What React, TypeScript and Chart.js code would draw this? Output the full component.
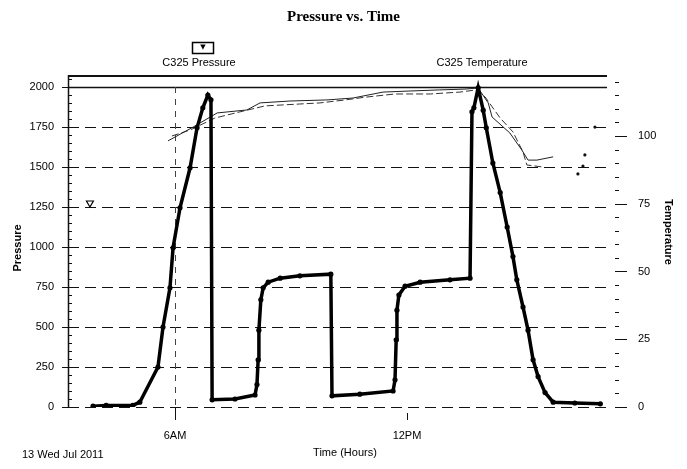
import React, { useEffect, useRef } from "react";
import { Chart, registerables } from "chart.js";

Chart.register(...registerables);

const TITLE = "Pressure vs. Time";
const PRESSURE_NAME = "C325 Pressure";
const TEMP_NAME = "C325 Temperature";
const X_TITLE = "Time (Hours)";
const DATE_LABEL = "13 Wed Jul 2011";
const Y_TITLE = "Pressure";
const Y2_TITLE = "Temperature";

const xTickHours = [6, 12];
const xTickLabels = ["6AM", "12PM"];
const pressureTicks = [0, 250, 500, 750, 1000, 1250, 1500, 1750, 2000];
const temperatureTicks = [0, 25, 50, 75, 100];

// C325 Pressure (hours since midnight, psi)
const pressureHours = [3.88, 4.22, 4.91, 5.09, 5.56, 5.69, 5.87, 5.95, 6.13, 6.39, 6.57, 6.72, 6.85, 6.93, 6.96, 7.55, 8.07, 8.12, 8.15, 8.17, 8.22, 8.28, 8.41, 8.72, 9.23, 10.03, 10.06, 10.78, 11.64, 11.69, 11.72, 11.74, 11.79, 11.95, 12.34, 13.11, 13.63, 13.68, 13.73, 13.84, 13.97, 14.05, 14.22, 14.41, 14.59, 14.74, 14.84, 15.0, 15.13, 15.26, 15.39, 15.57, 15.78, 16.34, 17.0];
const pressureValues = [5, 10, 10, 30, 250, 500, 745, 995, 1245, 1495, 1745, 1870, 1950, 1920, 45, 50, 75, 140, 295, 480, 670, 745, 780, 805, 820, 830, 70, 80, 100, 170, 420, 605, 700, 755, 780, 795, 805, 1845, 1870, 1995, 1855, 1745, 1525, 1340, 1125, 940, 795, 625, 480, 295, 190, 90, 30, 25, 20];

// C325 Temperature traces
const tempAHours = [5.82, 6.47, 7.09, 7.86, 8.2, 8.97, 9.93, 10.6, 11.38, 12.08, 12.85, 13.5, 13.84, 14.1, 14.2, 14.66, 14.97, 15.13, 15.36, 15.78];
const tempAValues = [98.2, 103.3, 108.5, 109.6, 112.2, 112.9, 113.3, 114, 116.2, 116.6, 117, 117.3, 117.7, 112.2, 107, 101.1, 94.8, 91.1, 91.1, 92.3];
const tempBHours = [5.92, 6.39, 7.03, 7.68, 8.33, 9.23, 9.75, 10.4, 10.91, 11.69, 12.6, 13.37, 13.79, 14.02, 14.41, 14.74, 14.87, 15.0, 15.1, 15.49];
const tempBValues = [100, 102.2, 106.6, 108.9, 111.1, 111.8, 112.2, 113.3, 114.3, 115.5, 115.5, 116.2, 117, 114.4, 106.6, 101.5, 97.8, 94.1, 89.3, 88.6];
const tempDotHours = [16.42, 16.55, 16.6, 16.86];
const tempDotValues = [86, 88.9, 93, 103.3];

// marker
const markerHours = [3.8];
const markerValues = [1275];

const X_MIN = 3.233;
const X_MAX = 17.172;
const P_MAX = 2075;
const T_MAX = 122.5;

const SANS = "'Liberation Sans', Arial, sans-serif";
const SERIF = "'Liberation Serif', 'Times New Roman', serif";

const zip = (xs: number[], ys: number[]) => xs.map((x, i) => ({ x, y: ys[i] }));

const decor = {
  id: "decor",
  beforeDatasetsDraw(chart: any) {
    const { ctx, chartArea: ca, scales } = chart;
    const y = scales.y;
    const yT = scales.yT;
    const x = scales.x;
    ctx.save();
    ctx.strokeStyle = "#111";
    // horizontal grid lines
    pressureTicks.forEach((v) => {
      const py = Math.round(y.getPixelForValue(v)) + 0.5;
      if (v === 2000) {
        ctx.setLineDash([]);
        ctx.lineWidth = 1.6;
      } else {
        ctx.setLineDash([11, 6]);
        ctx.lineWidth = 1;
      }
      ctx.beginPath();
      ctx.moveTo(ca.left, py);
      ctx.lineTo(ca.right, py);
      ctx.stroke();
    });
    // vertical dashed at 6AM
    const x6 = Math.round(x.getPixelForValue(xTickHours[0])) + 0.5;
    ctx.setLineDash([6, 6]);
    ctx.lineWidth = 1;
    ctx.strokeStyle = "#444";
    ctx.beginPath();
    ctx.moveTo(x6, y.getPixelForValue(2000));
    ctx.lineTo(x6, ca.bottom);
    ctx.stroke();
    ctx.setLineDash([]);
    ctx.strokeStyle = "#111";
    // x tick marks
    xTickHours.forEach((h, i) => {
      const px = Math.round(x.getPixelForValue(h)) + 0.5;
      ctx.beginPath();
      ctx.moveTo(px, ca.bottom + (i === 0 ? 0 : 6));
      ctx.lineTo(px, ca.bottom + 13);
      ctx.stroke();
    });
    // top border
    ctx.lineWidth = 2;
    ctx.beginPath();
    ctx.moveTo(ca.left, ca.top + 1);
    ctx.lineTo(ca.right, ca.top + 1);
    ctx.stroke();
    // left axis
    ctx.lineWidth = 1.5;
    ctx.beginPath();
    ctx.moveTo(ca.left + 0.5, ca.top);
    ctx.lineTo(ca.left + 0.5, ca.bottom);
    ctx.stroke();
    // left minor ticks
    ctx.lineWidth = 1;
    for (let v = 0; v <= 2050; v += 50) {
      const py = Math.round(y.getPixelForValue(v)) + 0.5;
      const major = v % 250 === 0;
      ctx.beginPath();
      ctx.moveTo(ca.left - (major ? 6 : 0), py);
      ctx.lineTo(ca.left + (major ? 6 : 4), py);
      ctx.stroke();
    }
    // right axis ticks
    const rx = ca.right + 11;
    for (let t = 0; t <= 120; t += 5) {
      const py = Math.round(yT.getPixelForValue(t)) + 0.5;
      const major = t % 25 === 0;
      ctx.beginPath();
      ctx.moveTo(rx - 3, py);
      ctx.lineTo(rx + (major ? 9 : 1), py);
      ctx.stroke();
    }
    ctx.restore();
  },
  afterDraw(chart: any) {
    const { ctx } = chart;
    ctx.save();
    ctx.fillStyle = "#000";
    ctx.strokeStyle = "#000";
    ctx.font = `11px ${SANS}`;
    ctx.textAlign = "center";
    ctx.textBaseline = "middle";
    ctx.fillText(PRESSURE_NAME, 199, 63);
    ctx.fillText(TEMP_NAME, 482, 63);
    ctx.fillText(X_TITLE, 345, 453);
    ctx.textAlign = "left";
    ctx.fillText(DATE_LABEL, 22, 455);
    // legend symbol box
    ctx.lineWidth = 1.5;
    ctx.strokeRect(192.5, 42.5, 21, 11);
    ctx.font = `7px 'DejaVu Sans', sans-serif`;
    ctx.textAlign = "center";
    ctx.fillText("\u25BC", 203, 47);
    // axis titles
    ctx.font = `bold 11px ${SANS}`;
    ctx.save();
    ctx.translate(18, 248);
    ctx.rotate(-Math.PI / 2);
    ctx.fillText(Y_TITLE, 0, 0);
    ctx.restore();
    ctx.save();
    ctx.translate(668, 232);
    ctx.rotate(Math.PI / 2);
    ctx.fillText(Y2_TITLE, 0, 0);
    ctx.restore();
    ctx.restore();
  },
};

export default function App() {
  const canvasRef = useRef<HTMLCanvasElement | null>(null);

  useEffect(() => {
    document.body.style.margin = "0";
    const canvas = canvasRef.current;
    if (!canvas) return;
    const chart = new Chart(canvas, {
      type: "line",
      data: {
        datasets: [
          {
            label: PRESSURE_NAME,
            data: zip(pressureHours, pressureValues),
            yAxisID: "y",
            borderColor: "#000",
            backgroundColor: "#000",
            borderWidth: 3.5,
            pointRadius: 2.6,
            pointBorderWidth: 0,
            pointBackgroundColor: "#000",
            tension: 0,
          },
          {
            label: TEMP_NAME,
            data: zip(tempAHours, tempAValues),
            yAxisID: "yT",
            borderColor: "#222",
            borderWidth: 1,
            pointRadius: 0,
            tension: 0,
          },
          {
            label: TEMP_NAME + " (2)",
            data: zip(tempBHours, tempBValues),
            yAxisID: "yT",
            borderColor: "#333",
            borderWidth: 1,
            borderDash: [7, 3],
            pointRadius: 0,
            tension: 0,
          },
          {
            label: TEMP_NAME + " (3)",
            data: zip(tempDotHours, tempDotValues),
            yAxisID: "yT",
            showLine: false,
            pointRadius: 1.6,
            pointBorderWidth: 0,
            pointBackgroundColor: "#111",
          },
          {
            label: "marker",
            data: zip(markerHours, markerValues),
            yAxisID: "y",
            showLine: false,
            pointStyle: "triangle",
            rotation: 180,
            pointRadius: 4,
            pointBorderWidth: 1.2,
            pointBorderColor: "#000",
            pointBackgroundColor: "#fff",
          },
        ],
      },
      options: {
        animation: false,
        responsive: true,
        maintainAspectRatio: false,
        parsing: false as any,
        layout: { padding: 0 },
        plugins: {
          legend: { display: false },
          tooltip: { enabled: false },
          title: {
            display: true,
            text: TITLE,
            color: "#000",
            font: { family: SERIF, size: 15, weight: "bold" },
            padding: { top: 8, bottom: 49 },
          },
        },
        scales: {
          x: {
            type: "linear",
            min: X_MIN,
            max: X_MAX,
            grid: { display: false, drawTicks: false },
            border: { display: false },
            afterBuildTicks: (s: any) => {
              s.ticks = xTickHours.map((v) => ({ value: v }));
            },
            afterFit: (s: any) => {
              s.height = 62;
            },
            ticks: {
              color: "#000",
              font: { family: SANS, size: 11 },
              padding: 22,
              maxRotation: 0,
              callback: (v: any) => {
                const i = xTickHours.indexOf(Number(v));
                return i >= 0 ? xTickLabels[i] : "";
              },
            },
          },
          y: {
            type: "linear",
            position: "left",
            min: 0,
            max: P_MAX,
            grid: { display: false, drawTicks: false },
            border: { display: false },
            afterBuildTicks: (s: any) => {
              s.ticks = pressureTicks.map((v) => ({ value: v }));
            },
            afterFit: (s: any) => {
              s.width = 68;
            },
            ticks: {
              color: "#000",
              font: { family: SANS, size: 11 },
              padding: 14,
              callback: (v: any) => String(v),
            },
          },
          yT: {
            type: "linear",
            position: "right",
            min: 0,
            max: T_MAX,
            grid: { display: false, drawTicks: false },
            border: { display: false },
            afterBuildTicks: (s: any) => {
              s.ticks = temperatureTicks.map((v) => ({ value: v }));
            },
            afterFit: (s: any) => {
              s.width = 80;
            },
            ticks: {
              color: "#000",
              font: { family: SANS, size: 11 },
              padding: 31,
              callback: (v: any) => String(v),
            },
          },
        },
      },
      plugins: [decor],
    });
    return () => chart.destroy();
  }, []);

  return (
    <div style={{ position: "relative", width: 687, height: 469, background: "#fff" }}>
      <canvas ref={canvasRef} />
    </div>
  );
}
